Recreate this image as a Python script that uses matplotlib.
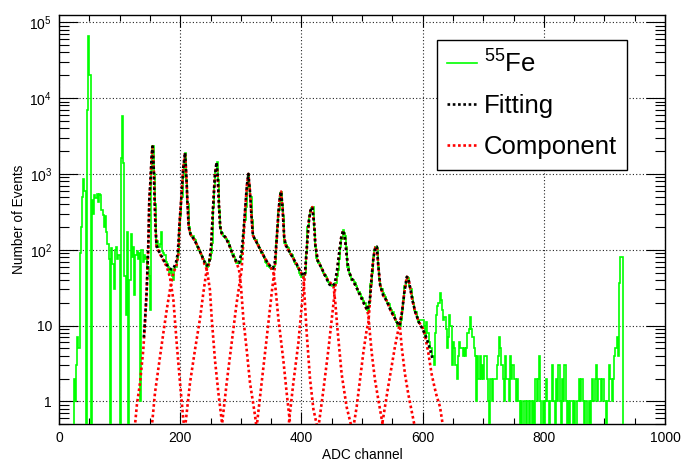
import numpy as np
import matplotlib
matplotlib.use("Agg")
import matplotlib.pyplot as plt
from matplotlib.lines import Line2D
from matplotlib.ticker import MultipleLocator, FixedLocator, FuncFormatter, NullFormatter

plt.rcParams['font.family'] = ['Liberation Sans', 'DejaVu Sans']
plt.rcParams['mathtext.fontset'] = 'custom'
plt.rcParams['mathtext.rm'] = 'Liberation Sans'
plt.rcParams['mathtext.it'] = 'Liberation Sans:italic'
plt.rcParams['mathtext.bf'] = 'Liberation Sans:bold'

# histogram: 2 ADC channels per bin, from 0 to 1000
BIN_WIDTH = 2
COUNTS = [
    0, 0, 0, 0, 0, 0, 0, 0, 0, 0,
    0, 0, 2, 1, 3, 7, 5, 90, 200, 500,
    850, 600, 0, 7000, 66000, 20000, 0, 450, 300, 520,
    480, 550, 420, 540, 520, 330, 290, 200, 280, 170,
    120, 75, 0, 105, 65, 30, 100, 110, 75, 85,
    0, 1600, 5800, 1400, 45, 14, 170, 0, 40, 160,
    80, 110, 25, 85, 95, 75, 90, 1, 100, 70,
    85, 75, 80, 60, 45, 16, 1100, 2300, 1000, 400,
    110, 130, 110, 120, 170, 95, 90, 85, 70, 65,
    60, 50, 55, 45, 40, 55, 60, 75, 90, 180,
    275, 500, 900, 1400, 1900, 830, 400, 200, 165, 150,
    150, 140, 135, 120, 110, 100, 90, 85, 80, 75,
    66, 62, 60, 62, 75, 90, 122, 370, 700, 1130,
    1450, 830, 335, 200, 165, 150, 150, 145, 140, 130,
    116, 105, 95, 88, 80, 72, 66, 68, 66, 70,
    85, 100, 160, 250, 370, 650, 1000, 700, 500, 250,
    150, 140, 135, 120, 116, 105, 100, 90, 85, 78,
    70, 66, 62, 60, 58, 55, 55, 62, 66, 135,
    200, 335, 560, 585, 400, 275, 122, 115, 110, 105,
    95, 88, 85, 78, 70, 65, 60, 55, 49, 47,
    44, 44, 46, 49, 90, 200, 280, 320, 354, 365,
    190, 110, 78, 72, 66, 62, 58, 54, 50, 47,
    44, 40, 38, 36, 34, 33, 33, 33, 36, 45,
    54, 75, 110, 140, 180, 165, 150, 110, 60, 50,
    45, 40, 40, 38, 36, 33, 30, 28, 26, 24,
    23, 21, 20, 18, 16, 15, 20, 35, 49, 81,
    100, 110, 105, 60, 40, 33, 30, 27, 25, 24,
    22, 20, 19, 17, 16, 15, 14, 12, 11, 10,
    10, 10, 12, 16, 22, 33, 38, 44, 42, 33,
    30, 24, 20, 16, 15, 13, 11, 12, 12, 12,
    12, 10, 7, 11, 8, 6, 5, 5, 4, 3,
    8, 14, 18, 20, 27, 22, 16, 12, 13, 9,
    5, 7, 14, 10, 3, 6, 5, 3, 2, 4,
    6, 5, 5, 4, 5, 4, 5, 8, 9, 13,
    9, 7, 5, 4, 1, 4, 2, 4, 2, 3,
    2, 4, 4, 2, 1, 0, 2, 1, 2, 2,
    2, 3, 4, 7, 5, 3, 2, 1, 4, 2,
    2, 1, 4, 2, 3, 2, 2, 1, 2, 1,
    0, 1, 0, 0, 1, 0, 1, 1, 0, 1,
    0, 1, 0, 2, 1, 2, 4, 1, 0, 1,
    0, 1, 2, 1, 0, 1, 1, 3, 1, 0,
    2, 1, 3, 1, 0, 2, 1, 3, 1, 0,
    1, 0, 1, 1, 0, 1, 0, 1, 1, 2,
    1, 2, 1, 0, 1, 1, 0, 1, 0, 1,
    2, 1, 2, 3, 1, 2, 2, 1, 2, 2,
    1, 0, 1, 1, 3, 2, 1, 2, 4, 5,
    7, 4, 36, 81, 81, 0, 0, 0, 0, 0,
    0, 0, 0, 0, 0, 0, 0, 0, 0, 0,
    0, 0, 0, 0, 0, 0, 0, 0, 0, 0,
    0, 0, 0, 0, 0, 0, 0, 0, 0, 0,
]

# total fit function (ADC, events)
FIT = [
    (140, 7), (142, 12), (144.6, 28), (147.4, 120), (149, 450), (151, 830), (153, 1800),
    (154.6, 2300), (156.5, 1100), (158, 400), (159.5, 180), (161, 115), (165, 95),
    (170, 80), (175, 68), (180, 60), (185, 55), (189, 57), (193, 68), (196, 90),
    (199, 230), (202, 500), (205, 1200), (208, 1900), (210, 1000), (212, 420),
    (214, 200), (217, 160), (222, 140), (228, 115), (234, 90), (240, 70), (244, 62),
    (248, 68), (251, 110), (254, 330), (257, 900), (260, 1420), (262, 900), (264, 380),
    (266, 200), (269, 160), (275, 145), (281, 115), (287, 85), (293, 70), (297, 67),
    (301, 90), (304, 160), (307, 330), (310, 700), (312.5, 1000), (315, 600), (318, 250),
    (320, 155), (325, 130), (331, 105), (337, 85), (343, 70), (349, 60), (353, 57),
    (356, 68), (359, 130), (362, 300), (364.5, 500), (366.5, 585), (369, 350),
    (371.5, 150), (374, 115), (380, 95), (386, 78), (392, 65), (398, 52), (403, 45),
    (406, 50), (409, 110), (412, 230), (415, 330), (418, 365), (421, 220), (423, 115),
    (427, 72), (433, 58), (440, 44), (446, 35), (451, 33), (455, 36), (459, 55),
    (463, 100), (466, 150), (469, 180), (472, 140), (475, 80), (478, 52), (483, 42),
    (490, 33), (497, 25), (504, 19), (509, 16), (513, 22), (516, 45), (519, 80),
    (522, 108), (524.5, 110), (527, 60), (530, 34), (535, 25), (541, 21), (547, 16),
    (553, 13), (558, 11), (562, 10), (566, 15), (570, 28), (574, 44), (577, 40),
    (580, 30), (583, 22), (588, 15), (594, 11), (600, 9), (606, 7), (612, 5), (617, 3.5),
]

# single peak components (ADC, events)
COMP_1 = [
    (125, 0.45), (128.5, 0.9), (133.7, 1.76), (139.1, 4.8), (141.9, 10.8), (144.6, 27),
    (147.4, 110), (149, 450), (151, 830), (153, 1800), (154.6, 2300), (156.5, 1100),
    (158, 400), (159.5, 180), (161, 112), (166, 90), (172, 73), (177.7, 60), (183, 44),
    (188.7, 22), (194.2, 5.9), (199.7, 1.76), (205.2, 0.57), (207, 0.45),
]
COMP_2 = [
    (153, 0.45), (158.4, 1.3), (166.7, 3.9), (172.2, 8), (177.7, 16), (183.2, 30),
    (188.7, 49), (194.2, 64), (197, 88), (199, 230), (202, 500), (205, 1200), (208, 1900),
    (210, 1000), (212, 420), (214, 200), (217, 160), (222, 140), (228, 115), (234, 90),
    (240, 65), (244, 55), (249, 30), (252, 12.4), (257.4, 3.5), (263, 1.3), (268.4, 0.57),
    (270, 0.45),
]
COMP_3 = [
    (208, 0.45), (216.2, 1.76), (224.4, 4.8), (232.7, 12.4), (238.2, 27), (243.7, 55),
    (248, 66), (251, 108), (254, 330), (257, 900), (260, 1420), (262, 900), (264, 380),
    (266, 200), (269, 160), (275, 145), (281, 115), (287, 85), (293, 67), (297, 55),
    (300, 35), (304.2, 12.4), (309.7, 4.8), (315.2, 1.76), (323.5, 0.65), (326, 0.45),
]
COMP_4 = [
    (268.4, 0.45), (276.7, 1.76), (284.9, 5.9), (293.2, 20), (301.4, 55), (304, 120),
    (307, 310), (310, 700), (312.5, 1000), (315, 600), (318, 250), (320, 155), (325, 130),
    (331, 105), (337, 85), (343, 70), (349, 60), (353.7, 50), (356.5, 36), (362, 12.4),
    (370.2, 3.5), (375.7, 1.3), (381.2, 0.52), (382, 0.45),
]
COMP_5 = [
    (326, 0.45), (334.5, 1.8), (342.7, 6.8), (351, 27), (356.5, 62), (359, 125),
    (362, 300), (364.5, 500), (366.5, 585), (369, 350), (371.5, 150), (374, 115),
    (380, 95), (386, 78), (392, 65), (398, 52), (403.2, 45), (408.7, 8), (414.2, 2),
    (419.7, 0.8), (425.2, 0.5), (426, 0.45),
]
COMP_6 = [
    (378.5, 0.45), (386.7, 1.76), (395, 5.9), (400.5, 18), (406, 48), (409, 105),
    (412, 225), (415, 330), (418, 365), (421, 220), (423, 115), (427, 72), (433, 58),
    (440, 44), (446, 38), (453, 33), (456, 20), (459, 10), (462, 5.5), (466.4, 2.3),
    (474.6, 0.85), (483, 0.45),
]
COMP_7 = [
    (428, 0.45), (436.2, 1.4), (444.5, 4.8), (450, 12), (455.5, 30), (459, 52),
    (463, 100), (466, 150), (469, 180), (472, 140), (475, 80), (478, 52), (483, 42),
    (490, 33), (497, 25), (504, 19), (508, 16), (510.4, 14), (513, 8), (516, 4.4),
    (521.4, 1.93), (527, 1.05), (535, 0.45),
]
COMP_8 = [
    (485.7, 0.45), (491.2, 0.85), (496.7, 1.93), (502.2, 4.4), (507.7, 8.8),
    (510.4, 10.6), (513, 20), (516, 45), (519, 80), (522, 108), (524.5, 110), (527, 60),
    (530, 34), (535, 25), (541, 21), (547, 16), (553, 13), (558, 11), (562.6, 9.7),
    (565.4, 5.3), (570.9, 2.3), (576.4, 1.25), (581.9, 0.75), (587.4, 0.45),
]
COMP_9 = [
    (532.4, 0.45), (537.9, 0.85), (543.4, 1.6), (548.9, 2.9), (554.4, 5.3),
    (559.9, 8.8), (562.6, 10.6), (566, 15), (570, 28), (574, 44), (577, 40), (580, 30),
    (583, 22), (588, 15), (594, 11), (598, 10), (601, 9), (604, 7.4), (609.4, 4.4),
    (614.9, 2.3), (620, 1.5), (623, 1.2), (628.7, 0.85), (634, 0.45),
]
COMPONENTS = [COMP_1, COMP_2, COMP_3, COMP_4, COMP_5, COMP_6, COMP_7, COMP_8, COMP_9]

X_LABEL = "ADC channel"
Y_LABEL = "Number of Events"
LEGEND_LABELS = [r"$^{55}$Fe", "Fitting", "Component"]

GREEN = "#00ff00"
DOTTED = (0, (1, 1))


def ylabel_fmt(v, pos):
    k = int(round(np.log10(v)))
    if k == 0:
        return "1"
    if k == 1:
        return "10"
    return r"$10^{%d}$" % k


def main():
    fig = plt.figure(figsize=(6.81, 4.61), dpi=100)
    W, H = 681.0, 461.0
    ax = fig.add_axes([59 / W, 1 - 424.3 / H, 606 / W, (424.3 - 15) / H])

    counts = np.array(COUNTS, dtype=float)
    edges = np.arange(len(counts) + 1) * BIN_WIDTH
    shown = np.where(counts > 0, counts, 1e-3)
    ax.stairs(shown, edges, color=GREEN, lw=1.2, baseline=None, zorder=3)

    for comp in COMPONENTS:
        cx, cy = zip(*comp)
        ax.plot(cx, cy, color="red", lw=1.9, ls=DOTTED, zorder=4)

    fx, fy = zip(*FIT)
    ax.plot(fx, fy, color="black", lw=1.9, ls=DOTTED, zorder=5)

    ax.set_yscale("log")
    ax.set_xlim(0, 1000)
    ax.set_ylim(0.5, 1.245e5)

    ax.xaxis.set_major_locator(MultipleLocator(200))
    ax.xaxis.set_minor_locator(MultipleLocator(50))
    ax.yaxis.set_major_locator(FixedLocator([1, 10, 100, 1e3, 1e4, 1e5]))
    ax.yaxis.set_minor_locator(FixedLocator([m * 10.0 ** k for k in range(-1, 6) for m in range(2, 10)]))
    ax.yaxis.set_major_formatter(FuncFormatter(ylabel_fmt))
    ax.yaxis.set_minor_formatter(NullFormatter())

    ax.tick_params(axis="both", which="both", direction="in", top=True, right=True,
                   width=0.8, colors="black", labelsize=10)
    ax.tick_params(axis="x", which="major", length=8.6, pad=5)
    ax.tick_params(axis="x", which="minor", length=4.3)
    ax.tick_params(axis="y", which="major", length=13.7, pad=5)
    ax.tick_params(axis="y", which="minor", length=7.2)

    ax.grid(True, which="major", color="#222222", ls=(0, (1, 2)), lw=0.8)
    for s in ax.spines.values():
        s.set_linewidth(1.0)

    ax.set_xlabel(X_LABEL, fontsize=9.8, labelpad=2)
    ax.set_ylabel(Y_LABEL, fontsize=9.8)
    ax.yaxis.set_label_coords(-0.054, 0.5)

    handles = [
        Line2D([], [], color=GREEN, lw=1.2),
        Line2D([], [], color="black", lw=1.9, ls=DOTTED),
        Line2D([], [], color="red", lw=1.9, ls=DOTTED),
    ]
    leg = ax.legend(handles, LEGEND_LABELS, loc="upper left", bbox_to_anchor=(0.624, 0.939),
                    borderaxespad=0, fontsize=18.5, handlelength=1.15, handletextpad=0.27,
                    borderpad=0.4, labelspacing=0.66, fancybox=False, framealpha=1,
                    edgecolor="black")
    leg.get_frame().set_linewidth(1.0)
    leg.set_zorder(10)

    fig.savefig("out.png", dpi=100)


main()
